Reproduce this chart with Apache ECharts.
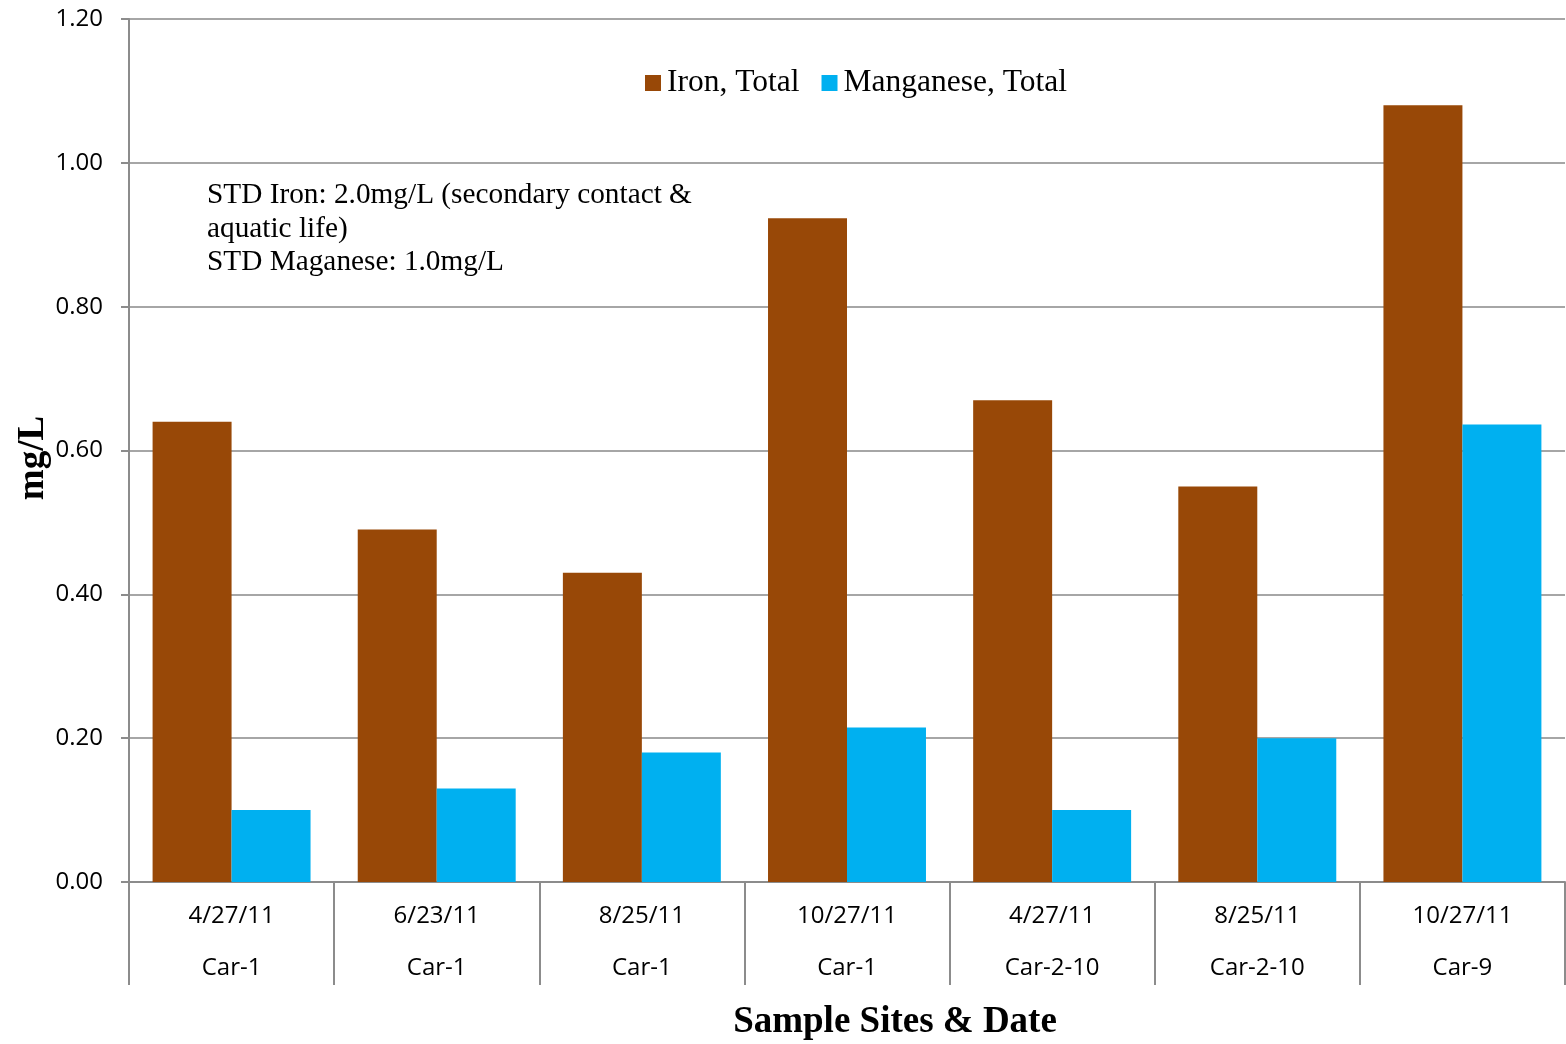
<!DOCTYPE html>
<html>
<head>
<meta charset="utf-8">
<script src="https://cdn.jsdelivr.net/npm/echarts@6/dist/echarts.min.js"></script>
<style>html,body{margin:0;padding:0;background:#fff}#c{width:1566px;height:1044px}</style>
</head>
<body>
<div id="c"></div>
<script>
var dates = ['4/27/11','6/23/11','8/25/11','10/27/11','4/27/11','8/25/11','10/27/11'];
var sites = ['Car-1','Car-1','Car-1','Car-1','Car-2-10','Car-2-10','Car-9'];
var ironTotal = [0.64, 0.49, 0.43, 0.923, 0.67, 0.55, 1.08];
var manganeseTotal = [0.10, 0.13, 0.18, 0.215, 0.10, 0.20, 0.636];
var seriesNames = ['Iron, Total', 'Manganese, Total'];
var yTicks = {min: 0, max: 1.2, interval: 0.2};
var noteLines = ['STD Iron: 2.0mg/L (secondary contact &', 'aquatic life)', 'STD Maganese: 1.0mg/L'];
var xTitle = 'Sample Sites & Date';
var yTitle = 'mg/L';

var categories = dates.map(function(d, i){ return d + '\n' + sites[i]; });
var serif = '"Liberation Serif", "Times New Roman", serif';
var sans = '"Open Sans", sans-serif';

var chart = echarts.init(document.getElementById('c'));
chart.setOption({
  animation: false,
  backgroundColor: '#fff',
  grid: {left: 129, right: 1, top: 19, bottom: 162, containLabel: false},
  legend: {
    data: seriesNames,
    left: 645, top: 67, padding: 0,
    icon: 'rect', itemWidth: 16, itemHeight: 16, itemGap: 22,
    textStyle: {fontFamily: serif, fontSize: 31.5, color: '#000', padding: [0,0,0,1]}
  },
  xAxis: {
    type: 'category',
    data: categories,
    axisLine: {lineStyle: {color: '#8c8c8c', width: 2}},
    axisTick: {show: true, interval: 0, length: 103, lineStyle: {color: '#8c8c8c', width: 2}},
    axisLabel: {interval: 0, fontFamily: sans, fontSize: 24, color: '#000', lineHeight: 52, margin: 8}
  },
  yAxis: {
    type: 'value',
    min: yTicks.min, max: yTicks.max, interval: yTicks.interval,
    axisLine: {show: true, lineStyle: {color: '#8c8c8c', width: 2}},
    axisTick: {show: true, length: 8, lineStyle: {color: '#8c8c8c', width: 2}},
    splitLine: {lineStyle: {color: '#a6a6a6', width: 2}},
    axisLabel: {fontFamily: sans, fontSize: 24, color: '#000', margin: 26,
      formatter: function(v){ return v.toFixed(2); }}
  },
  series: [
    {name: seriesNames[0], type: 'bar', data: ironTotal, barGap: '0%', barCategoryGap: '23%',
      itemStyle: {color: '#984807'}},
    {name: seriesNames[1], type: 'bar', data: manganeseTotal, barGap: '0%', barCategoryGap: '23%',
      itemStyle: {color: '#00B0F0'}}
  ],
  graphic: [
    {type: 'text', left: 207, top: 179, style: {text: noteLines.join('\n'), font: '29.3px ' + serif, lineHeight: 33.5, fill: '#000'}},
    {type: 'text', x: 895, y: 1022, style: {text: xTitle, font: 'bold 37px ' + serif, fill: '#000', align: 'center', verticalAlign: 'middle'}},
    {type: 'text', x: 33, y: 458, rotation: Math.PI/2, style: {text: yTitle, font: 'bold 37px ' + serif, fill: '#000', align: 'center', verticalAlign: 'middle'}}
  ]
});
</script>
</body>
</html>
